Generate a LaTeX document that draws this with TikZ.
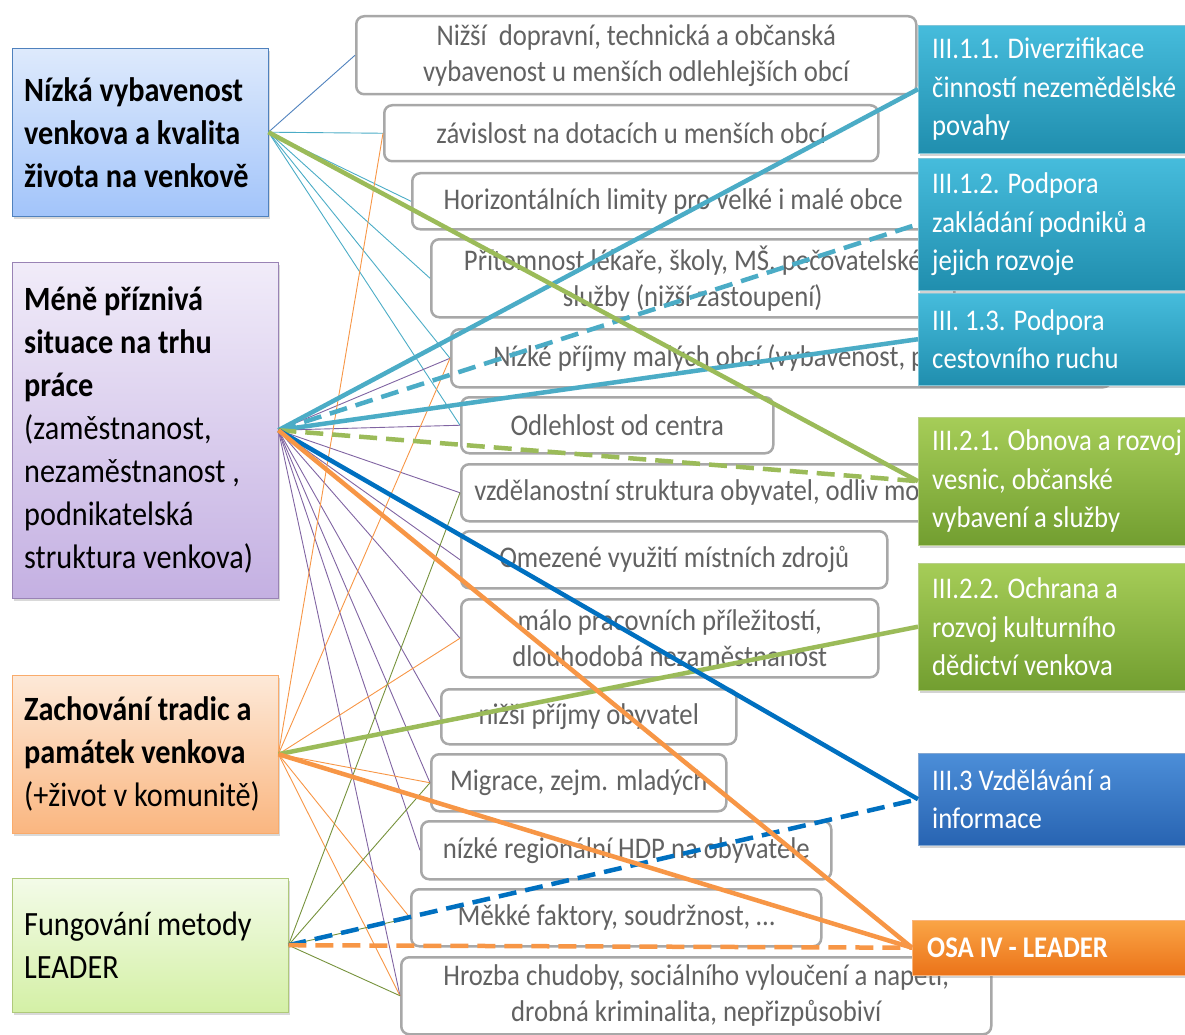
\documentclass[tikz,border=0pt]{standalone}
\usepackage{fontspec}
\setmainfont{Carlito}[FakeStretch=0.89]
\usetikzlibrary{positioning,shadows}

\definecolor{linkteal}{RGB}{75,172,198}
\definecolor{linkgreen}{RGB}{155,187,89}
\definecolor{linkblue}{RGB}{0,112,192}
\definecolor{linkorange}{RGB}{247,150,70}
\definecolor{linkpurple}{RGB}{128,100,162}
\definecolor{linkolive}{RGB}{118,146,60}
\definecolor{linksteel}{RGB}{79,129,189}
\definecolor{boxgray}{RGB}{168,168,168}
\definecolor{textgray}{RGB}{98,98,98}

\tikzset{problem/.style={draw, anchor=north west, align=flush left, inner xsep=12pt,
                         font=\fontsize{34}{43}\selectfont,
                         drop shadow={opacity=0.3,shadow xshift=2pt,shadow yshift=-3pt}}}
\tikzset{weakness/.style={draw=boxgray, line width=2.5pt, fill=white, rounded corners=8pt,
                          anchor=north west, align=flush center, text=textgray, inner sep=0pt,
                          font=\fontsize{30}{36}\selectfont}}
\tikzset{measure/.style={anchor=north west, align=flush left, text width=255pt, inner xsep=14pt,
                         text=white, font=\fontsize{30}{38.5}\selectfont,
                         drop shadow={opacity=0.35,shadow xshift=2pt,shadow yshift=-3pt}}}
\tikzset{dims/.style 2 args={minimum width=#1pt, minimum height=#2pt}}

\begin{document}
\begin{tikzpicture}[x=1pt, y=-1pt,
    % connector styles
    strong/.style ={line width=4.5pt},
    weak/.style   ={line width=4.5pt, dash pattern=on 18pt off 9pt},
    fine/.style   ={line width=0.9pt}
  ]
  \useasboundingbox (0,0) rectangle (1185,1035);

  % problems on the left
  \node[problem, text width=232pt, minimum height=168pt, draw=linksteel,
        top color={rgb,255:red,222;green,234;blue,252}, bottom color={rgb,255:red,162;green,196;blue,250}]
    (p1) at (12,48) {\textbf{Nízká vybavenost}\\\textbf{venkova a kvalita}\\\textbf{života na venkově}};
  \node[problem, text width=242pt, minimum height=336pt, draw=linkpurple!80,
        top color={rgb,255:red,241;green,236;blue,249}, bottom color={rgb,255:red,196;green,176;blue,226}]
    (p2) at (12,262) {\textbf{Méně příznivá}\\\textbf{situace na trhu}\\\textbf{práce}\\(zaměstnanost,\\nezaměstnanost ,\\podnikatelská\\struktura venkova)};
  \node[problem, text width=242pt, minimum height=158pt, draw=linkorange!80,
        top color={rgb,255:red,253;green,233;blue,216}, bottom color={rgb,255:red,250;green,182;blue,128}]
    (p3) at (12,675) {\textbf{Zachování tradic a}\\\textbf{památek venkova}\\(+život v komunitě)};
  \node[problem, text width=252pt, minimum height=134pt, draw=linkgreen!80,
        top color={rgb,255:red,243;green,251;blue,232}, bottom color={rgb,255:red,212;green,240;blue,166}]
    (p4) at (12,878) {Fungování metody\\LEADER};

  % weaknesses in the middle
  \node[weakness, dims={560}{78}]  (s1)  at (355,15)  {Nižší~ dopravní, technická a občanská\\vybavenost u menších odlehlejších obcí};
  \node[weakness, dims={494}{56}]  (s2)  at (383,104) {závislost na dotacích u menších obcí};
  \node[weakness, dims={522}{56}]  (s3)  at (411,172) {Horizontálních limity pro velké i malé obce};
  \node[weakness, dims={523}{78}]  (s4)  at (430,238) {Přítomnost lékaře, školy, MŠ, pečovatelské\\služby (nižší zastoupení)};
  \node[weakness, dims={660}{58}, align=flush left, text width=576pt, inner xsep=42pt]
                                   (s5)  at (450,328) {Nízké příjmy malých obcí (vybavenost, p};
  \node[weakness, dims={312}{56}]  (s6)  at (460,396) {Odlehlost od centra};
  \node[weakness, dims={600}{57}, align=flush left, text width=574pt, inner xsep=13pt]
                                   (s7)  at (460,463) {vzdělanostní struktura obyvatel, odliv mo};
  \node[weakness, dims={426}{57}]  (s8)  at (460,530) {Omezené využití místních zdrojů};
  \node[weakness, dims={417}{78}]  (s9)  at (460,598) {málo pracovních příležitostí,\\dlouhodobá nezaměstnanost};
  \node[weakness, dims={295}{55}]  (s10) at (440,688) {nižší příjmy obyvatel};
  \node[weakness, dims={295}{57}]  (s11) at (430,753) {Migrace, zejm. mladých};
  \node[weakness, dims={410}{58}]  (s12) at (420,820) {nízké regionální HDP na obyvatele};
  \node[weakness, dims={410}{57}]  (s13) at (410,888) {Měkké faktory, soudržnost, …};
  \node[weakness, dims={590}{77}]  (s14) at (400,956) {Hrozba chudoby, sociálního vyloučení a napětí,\\drobná kriminalita, nepřizpůsobiví};

  % measures on the right
  \node[measure, minimum height=128pt, draw=linkteal!70!white,
        top color={rgb,255:red,70;green,188;blue,220}, bottom color={rgb,255:red,32;green,142;blue,174}]
    (o1) at (918,25) {III.1.1. Diverzifikace\\činností nezemědělské\\povahy};
  \node[measure, minimum height=132pt, draw=linkteal!70!white,
        top color={rgb,255:red,70;green,188;blue,220}, bottom color={rgb,255:red,32;green,142;blue,174}]
    (o2) at (918,158) {III.1.2. Podpora\\zakládání podniků a\\jejich rozvoje};
  \node[measure, minimum height=92pt, draw=linkteal!70!white,
        top color={rgb,255:red,70;green,188;blue,220}, bottom color={rgb,255:red,32;green,142;blue,174}]
    (o3) at (918,293) {III. 1.3. Podpora\\cestovního ruchu};
  \node[measure, minimum height=128pt, draw=linkgreen!70!white,
        top color={rgb,255:red,166;green,205;blue,88}, bottom color={rgb,255:red,114;green,158;blue,48}]
    (o4) at (918,417) {III.2.1. Obnova a rozvoj\\vesnic, občanské\\vybavení a služby};
  \node[measure, minimum height=127pt, draw=linkgreen!70!white,
        top color={rgb,255:red,166;green,205;blue,88}, bottom color={rgb,255:red,114;green,158;blue,48}]
    (o5) at (918,563) {III.2.2. Ochrana a\\rozvoj kulturního\\dědictví venkova};
  \node[measure, minimum height=92pt, draw=linksteel!70!white,
        top color={rgb,255:red,76;green,142;blue,216}, bottom color={rgb,255:red,40;green,100;blue,178}]
    (o6) at (918,753) {III.3 Vzdělávání a\\informace};
  \node[measure, minimum height=55pt, text width=262pt, inner xsep=15pt, draw=linkorange!70!white,
        top color={rgb,255:red,250;green,165;blue,70}, bottom color={rgb,255:red,235;green,115;blue,25}]
    (o7) at (912,920) {\textbf{OSA IV - LEADER}};

  % thin links problem -> weakness
  \draw[fine, linksteel] (p1.east) -- (s1.west);
  \foreach \s in {2,...,6}
    \draw[fine, linkteal] (p1.east) -- (s\s.west);
  \foreach \s in {5,6,7,8,9,10,11,12,14}
    \draw[fine, linkpurple] (p2.east) -- (s\s.west);
  \foreach \s in {2,5,9,11,13,14}
    \draw[fine, linkorange] (p3.east) -- (s\s.west);
  \foreach \s in {7,11,13,14}
    \draw[fine, linkolive] (p4.east) -- (s\s.west);

  % thick links problem -> measure
  \draw[strong, linkteal]   (p2.east) -- (o1.west);
  \draw[weak,   linkteal]   (p2.east) -- (o2.west);
  \draw[strong, linkteal]   (p2.east) -- (o3.west);
  \draw[strong, linkgreen]  (p1.east) -- (o4.west);
  \draw[weak,   linkgreen]  (p2.east) -- (o4.west);
  \draw[strong, linkgreen]  (p3.east) -- (o5.west);
  \draw[strong, linkblue]   (p2.east) -- (o6.west);
  \draw[weak,   linkblue]   (p4.east) -- (o6.west);
  \draw[strong, linkorange] (p2.east) -- (o7.west);
  \draw[strong, linkorange] (p3.east) -- (o7.west);
  \draw[weak,   linkorange] (p4.east) -- (o7.west);
\end{tikzpicture}
\end{document}
